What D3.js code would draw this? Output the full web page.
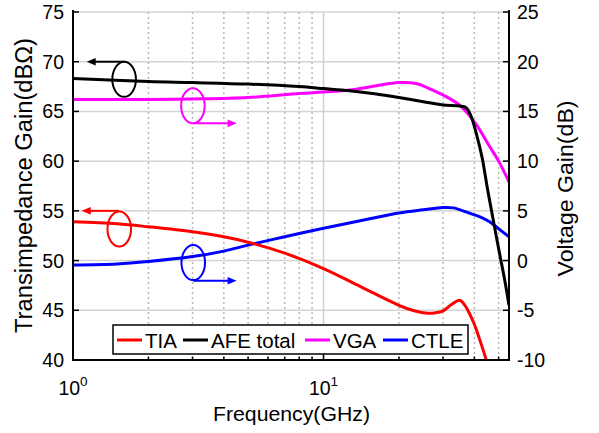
<!DOCTYPE html>
<html><head><meta charset="utf-8">
<script src="https://cdn.jsdelivr.net/npm/d3@7"></script>
<style>
html,body{margin:0;padding:0;background:#fff;}
text{font-family:"Liberation Sans",Arial,sans-serif;fill:#000;}
</style></head>
<body>
<svg id="chart" width="599" height="433"></svg>
<script>
// ---------- data ----------
const tiaF = [1,1.5,2,3,4,5,7,10,14,20,23,26,28,30,32.5,35,36.9,38.2,40,41.7,44.6,47];
const tiaV = [53.9,53.7,53.4,52.9,52.4,51.85,50.75,49.2,47.4,45.5,44.95,44.7,44.75,44.95,45.6,46.0,45.4,44.7,43.6,42.3,40.0,37.5];

const afeF = [1,2,3,5,8,10,12.7,16,20,26,30,35,37,38.7,41,43,45,47,50,53,55];
const afeV = [68.3,68.0,67.9,67.75,67.5,67.3,67.08,66.78,66.4,65.9,65.65,65.55,65.4,64.6,62.5,60.3,57.4,54.8,51.2,47.9,45.5];

const vgaF = [1,2,3,5,8,10,12.7,16,20,23.4,26.4,30,34.8,40.4,45.7,50,55];
const vgaV = [16.2,16.2,16.25,16.4,16.8,16.95,17.15,17.55,17.9,17.8,17.3,16.65,15.65,13.8,11.6,10.0,7.9];

const ctleF = [1,1.5,2,3,4,5,7,10,14,20,25,30,33,37,43,46,50,55];
const ctleV = [-0.45,-0.35,-0.1,0.4,0.95,1.55,2.4,3.25,4.0,4.78,5.1,5.33,5.3,4.9,4.3,3.9,3.2,2.4];

const leftTicks = [40,45,50,55,60,65,70,75];
const rightTicks = [-10,-5,0,5,10,15,20,25];
const xMajor = [1,10];
const xMinor = [2,3,4,5,6,7,8,9,20,30,40,50];
const legendNames = ["TIA","AFE total","VGA","CTLE"];
const colors = ["#ff0000","#000000","#ff00ff","#0000ff"];

// annotations (left-axis units): ellipse centre, arrow start value, arrow tip frequency
const annF = [1.60,3.01,1.53,3.02];
const annV = [68.23,65.57,53.18,49.8];
const annArrowV = [70.0,63.8,55.0,47.97];
const annTipF = [1.134,4.5,1.083,4.5];

// ---------- layout ----------
const L=73, R=509, T=12, B=360;
const svg = d3.select("#chart");
const x = d3.scaleLog().domain([1,55]).range([L,R]);
const yL = d3.scaleLinear().domain([40,75]).range([B,T]);
const yR = d3.scaleLinear().domain([-10,25]).range([B,T]);

// grid
const g = svg.append("g");
g.selectAll("line.hg").data(leftTicks.slice(1)).enter().append("line")
  .attr("x1",L).attr("x2",R).attr("y1",d=>yL(d)).attr("y2",d=>yL(d))
  .attr("stroke","#d4d4d4").attr("stroke-width",1.5);
g.selectAll("line.vm").data(xMinor).enter().append("line")
  .attr("x1",d=>x(d)).attr("x2",d=>x(d)).attr("y1",T).attr("y2",B)
  .attr("stroke","#b8b8b8").attr("stroke-width",1.5).attr("stroke-dasharray","2,3");
g.selectAll("line.vM").data([10]).enter().append("line")
  .attr("x1",d=>x(d)).attr("x2",d=>x(d)).attr("y1",T).attr("y2",B)
  .attr("stroke","#d0d0d0").attr("stroke-width",1.5);

// curves
svg.append("clipPath").attr("id","clip").append("rect")
  .attr("x",L).attr("y",T).attr("width",R-L).attr("height",B-T);
const series = [
  {f:tiaF,v:tiaV,y:yL},
  {f:afeF,v:afeV,y:yL},
  {f:vgaF,v:vgaV,y:yR},
  {f:ctleF,v:ctleV,y:yR}
];
const drawOrder=[3,2,0,1];
drawOrder.forEach(i=>{
  const s=series[i];
  const pts=s.f.map((f,j)=>[x(f),s.y(s.v[j])]);
  svg.append("path").attr("clip-path","url(#clip)")
    .attr("d",d3.line().curve(d3.curveCatmullRom.alpha(0.5))(pts))
    .attr("fill","none").attr("stroke",colors[i]).attr("stroke-width",3);
});

// annotations
const annColors=["#000000","#ff00ff","#ff0000","#0000ff"];
annF.forEach((f,i)=>{
  const cx=x(f), cy=yL(annV[i]);
  svg.append("ellipse").attr("cx",cx).attr("cy",cy).attr("rx",11.8).attr("ry",17.5)
    .attr("fill","none").attr("stroke",annColors[i]).attr("stroke-width",2);
  const ay=yL(annArrowV[i]), tx=x(annTipF[i]);
  const dir = tx<cx?-1:1;
  svg.append("line").attr("x1",cx).attr("x2",tx-dir*8).attr("y1",ay).attr("y2",ay)
    .attr("stroke",annColors[i]).attr("stroke-width",2);
  svg.append("path")
    .attr("d",`M${tx},${ay}L${tx-dir*9},${ay-3.8}L${tx-dir*9},${ay+3.8}Z`)
    .attr("fill",annColors[i]);
});

// axes lines
svg.append("line").attr("x1",L).attr("x2",L).attr("y1",T-2).attr("y2",B+1).attr("stroke","#000").attr("stroke-width",2);
svg.append("line").attr("x1",R).attr("x2",R).attr("y1",T-2).attr("y2",B+1).attr("stroke","#000").attr("stroke-width",2);
svg.append("line").attr("x1",L-1).attr("x2",R+1).attr("y1",B).attr("y2",B).attr("stroke","#000").attr("stroke-width",2);

// ticks
svg.selectAll("line.lt").data(leftTicks).enter().append("line")
  .attr("x1",L).attr("x2",L+6).attr("y1",d=>yL(d)).attr("y2",d=>yL(d)).attr("stroke","#000").attr("stroke-width",1.5);
svg.selectAll("line.rt").data(rightTicks).enter().append("line")
  .attr("x1",R).attr("x2",R-6).attr("y1",d=>yR(d)).attr("y2",d=>yR(d)).attr("stroke","#000").attr("stroke-width",1.5);
svg.selectAll("line.bt").data(xMinor).enter().append("line")
  .attr("x1",d=>x(d)).attr("x2",d=>x(d)).attr("y1",B).attr("y2",B-3.5).attr("stroke","#000").attr("stroke-width",1.5);
svg.selectAll("line.bT").data(xMajor).enter().append("line")
  .attr("x1",d=>x(d)).attr("x2",d=>x(d)).attr("y1",B).attr("y2",B-6).attr("stroke","#000").attr("stroke-width",1.5);

// tick labels
svg.selectAll("text.ll").data(leftTicks).enter().append("text")
  .attr("x",L-9).attr("y",d=>yL(d)+7).attr("text-anchor","end")
  .style("font-size","19.5px").text(d=>d);
svg.selectAll("text.rl").data(rightTicks).enter().append("text")
  .attr("x",R+8).attr("y",d=>yR(d)+7).attr("text-anchor","start")
  .style("font-size","19.5px").text(d=>d);
xMajor.forEach(v=>{
  const t=svg.append("text").attr("x",x(v)).attr("y",395).attr("text-anchor","middle").style("font-size","19.5px");
  t.append("tspan").text("10");
  t.append("tspan").attr("dy",-9).style("font-size","13.5px").text(Math.round(Math.log10(v)));
});

// axis titles
svg.append("text").attr("x",291.5).attr("y",421).attr("text-anchor","middle")
  .style("font-size","21px").attr("textLength",157).attr("lengthAdjust","spacingAndGlyphs")
  .text("Frequency(GHz)");
svg.append("text").attr("transform","translate(32,185.5) rotate(-90)").attr("text-anchor","middle")
  .style("font-size","23px").attr("textLength",295).attr("lengthAdjust","spacingAndGlyphs")
  .text("Transimpedance Gain(dBΩ)");
svg.append("text").attr("transform","translate(573,188.5) rotate(-90)").attr("text-anchor","middle")
  .style("font-size","22.5px").attr("textLength",176).attr("lengthAdjust","spacingAndGlyphs")
  .text("Voltage Gain(dB)");

// legend
svg.append("rect").attr("x",113).attr("y",325).attr("width",355).attr("height",29)
  .attr("fill","#fff").attr("stroke","#000").attr("stroke-width",1.5);
const legSample=[117,183,305,383];
legendNames.forEach((n,i)=>{
  svg.append("line").attr("x1",legSample[i]).attr("x2",legSample[i]+25).attr("y1",340).attr("y2",340)
    .attr("stroke",colors[i]).attr("stroke-width",3);
  svg.append("text").attr("x",legSample[i]+28).attr("y",348.3).style("font-size","20.5px").text(n);
});
</script>
</body></html>
